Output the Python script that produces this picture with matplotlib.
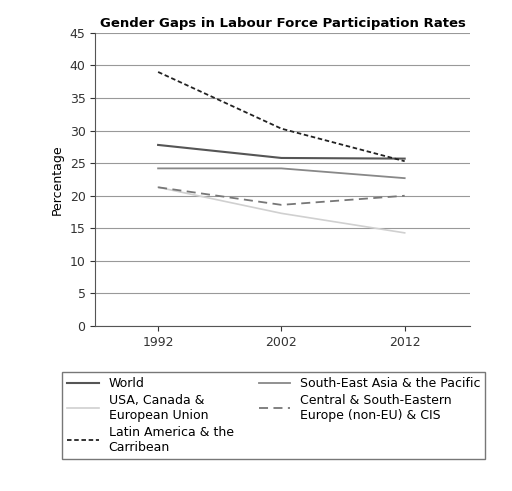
import matplotlib.pyplot as plt

years = [1992, 2002, 2012]
world = [27.8, 25.8, 25.7]
usa = [21.3, 17.3, 14.3]
latin = [39.0, 30.3, 25.3]
se_asia = [24.2, 24.2, 22.7]
central = [21.3, 18.6, 20.0]
yticks = list(range(0, 50, 5))

fig = plt.figure(figsize=(5.12, 4.91), dpi=100)
ax = fig.add_axes([0.186, 0.336, 0.732, 0.597])

l1, = ax.plot(years, world, color='#555555', lw=1.5, label='World')
l2, = ax.plot(years, usa, color='#d0d0d0', lw=1.2, label='USA, Canada &\nEuropean Union')
l3, = ax.plot(years, latin, color='#222222', lw=1.3, ls=(0, (2.5, 1.5)),
              label='Latin America & the\nCarribean')
l4, = ax.plot(years, se_asia, color='#888888', lw=1.3, label='South-East Asia & the Pacific')
l5, = ax.plot(years, central, color='#777777', lw=1.3, ls=(0, (5, 3)),
              label='Central & South-Eastern\nEurope (non-EU) & CIS')

ax.set_xlim(1986.9, 2017.3)
ax.set_ylim(0, 45)
ax.set_yticks(yticks)
ax.set_xticks(years)
ax.tick_params(labelsize=9, colors='#333333')
ax.grid(axis='y', color='#999999', lw=0.8)
ax.set_axisbelow(True)
for s in ['top', 'right']:
    ax.spines[s].set_visible(False)
ax.spines['left'].set_color('#555555')
ax.spines['bottom'].set_color('#555555')
ax.set_ylabel('Percentage', fontsize=9)
ax.set_title('Gender Gaps in Labour Force Participation Rates',
             fontsize=9.5, fontweight='bold', pad=4)

leg = fig.legend(handles=[l1, l2, l3, l4, l5], ncol=2, loc='upper center',
                 bbox_to_anchor=(0.535, 0.255), fontsize=9, frameon=True,
                 fancybox=False, edgecolor='#555555', handlelength=2.5,
                 columnspacing=2.0, labelspacing=0.3)

fig.savefig('out.png', dpi=100)
